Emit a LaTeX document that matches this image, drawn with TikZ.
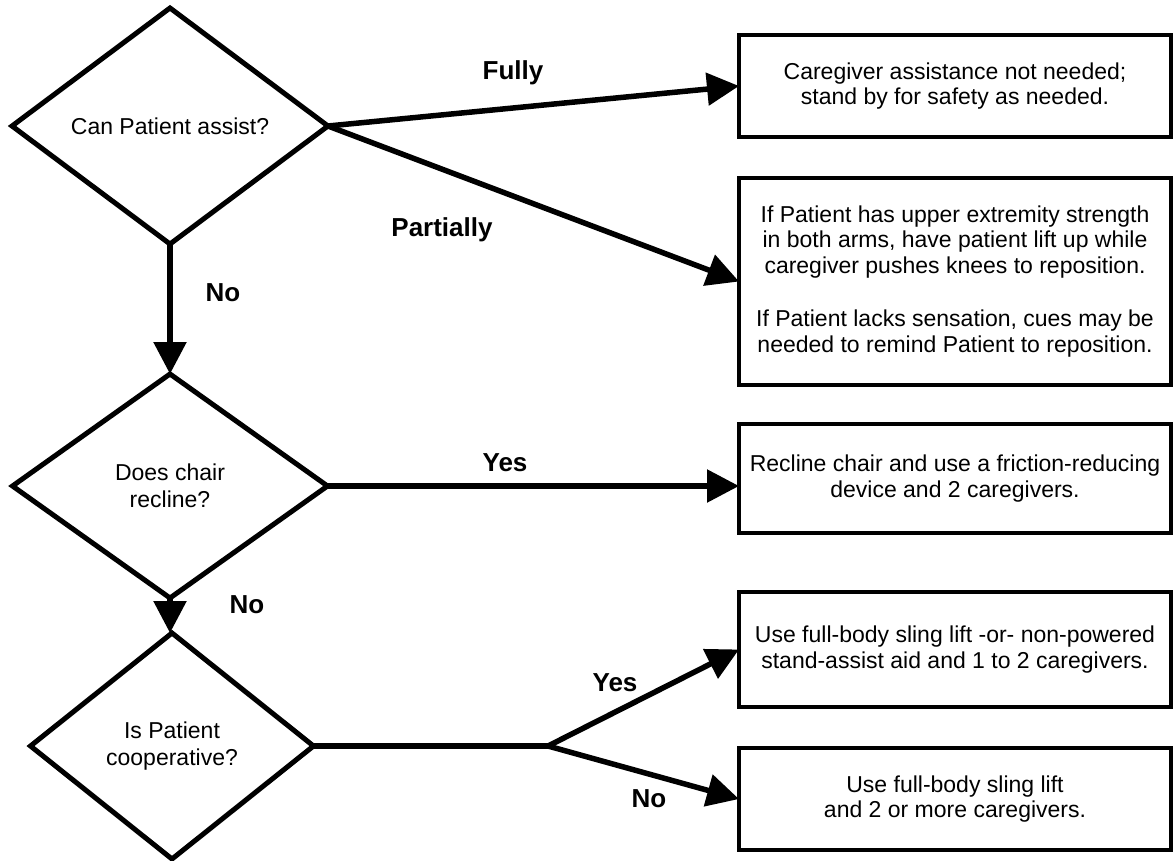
\documentclass[tikz,border=0pt]{standalone}
\usepackage{fontspec}
\setmainfont{Liberation Sans}
\usetikzlibrary{shapes.geometric,arrows.meta}
\tikzset{
  ask/.style={draw, diamond, line width=5pt, inner sep=0pt, outer sep=0pt, align=center, font=\fontsize{23}{26.5}\selectfont},
  todo/.style={draw, rectangle, line width=4.5pt, inner sep=0pt, outer sep=0pt, minimum width=432pt, align=center, font=\fontsize{23}{25.5}\selectfont},
  lbl/.style={font=\bfseries\fontsize{26}{30}\selectfont},
  arr/.style={line width=5.5pt, -{Triangle[length=32pt,width=32pt]}}
}
\begin{document}
\begin{tikzpicture}[x=1pt,y=-1pt]
  \useasboundingbox (0,0) rectangle (1173,860);
  \node[ask, minimum width=316pt, minimum height=236pt] (d1) at (170,126) {Can Patient assist?};
  \node[ask, minimum width=315pt, minimum height=224pt] (d2) at (170,486) {Does chair\\recline?};
  \node[ask, minimum width=283pt, minimum height=226pt] (d3) at (172,746) {Is Patient\\cooperative?};

  \node[todo, minimum height=102pt] (b1) at (955,86) {Caregiver assistance not needed;\\stand by for safety as needed.};
  \node[todo, minimum height=207pt] (b2) at (955,281.5) {If Patient has upper extremity strength\\in both arms, have patient lift up while\\caregiver pushes knees to reposition.\\[28pt]If Patient lacks sensation, cues may be\\needed to remind Patient to reposition.};
  \node[todo, minimum height=109pt] (b3) at (955,478.5) {Recline chair and use a friction-reducing\\device and 2 caregivers.};
  \node[todo, minimum height=115pt] (b4) at (955,649.5) {Use full-body sling lift -or- non-powered\\stand-assist aid and 1 to 2 caregivers.};
  \node[todo, minimum height=102pt] (b5) at (955,799) {Use full-body sling lift\\and 2 or more caregivers.};

  \coordinate (split) at (548,746);

  \draw[arr] (d1.east) -- (b1.west);
  \draw[arr] (d1.east) -- (b2.west);
  \draw[arr] (d1.south) -- (d1.south |- d2.north);
  \draw[arr] (d2.east) -- (d2.east -| b3.west);
  \draw[arr] (d2.south) -- (d2.south |- d3.north);
  \draw[line width=5.5pt] (d3.east) -- (split);
  \draw[arr] (split) -- (b4.west);
  \draw[arr] (split) -- (b5.west);

  \node[lbl] (fully) at (513,73) {Fully};
  \node[lbl] (partly) at (442,230) {Partially};
  \node[lbl] (no1) at (223,293) {No};
  \node[lbl] (yes1) at (505,463) {Yes};
  \node[lbl] (no2) at (247,605) {No};
  \node[lbl] (yes2) at (615,683) {Yes};
  \node[lbl] (no3) at (649,799) {No};
\end{tikzpicture}
\end{document}
